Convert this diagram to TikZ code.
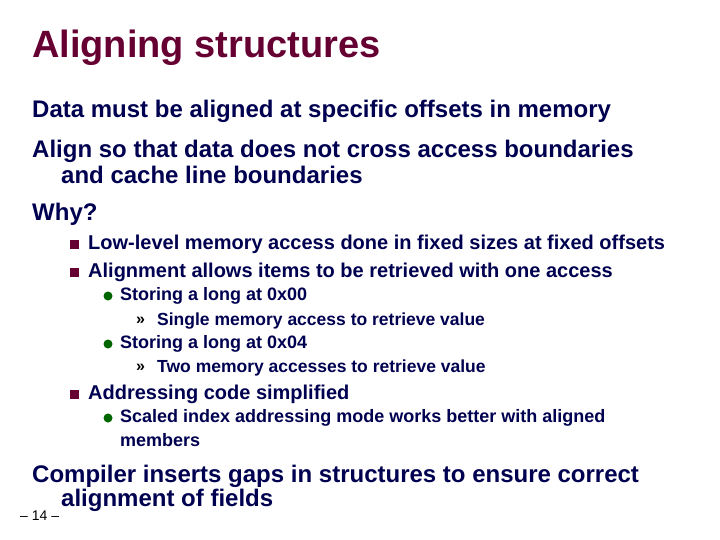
\documentclass[tikz,border=0pt]{standalone}
\usepackage{fontspec}
\setmainfont{Liberation Sans}
\usetikzlibrary{positioning}
\definecolor{titlered}{RGB}{102,0,51}
\definecolor{textblue}{RGB}{0,0,80}
\definecolor{bulletgreen}{RGB}{0,102,0}
\tikzset{
  txt/.style={anchor=west, inner sep=0pt, text=textblue, font=\bfseries\fontsize{#1}{#1}\selectfont},
  sqbullet/.style={fill=titlered, minimum size=9pt, inner sep=0pt},
  dotbullet/.style={circle, fill=bulletgreen, minimum size=9pt, inner sep=0pt}
}
\begin{document}
\begin{tikzpicture}[x=1pt, y=-1pt]
\useasboundingbox (0,0) rectangle (720,540);

% Title
\node[anchor=west, inner sep=0pt, text=titlered, font=\bfseries\fontsize{38}{38}\selectfont] (title) at (32,48) {Aligning structures};

% Top level
\node[txt=24] (data) at (32,111) {Data must be aligned at specific offsets in memory};
\node[txt=24] (align) at (32,151) {Align so that data does not cross access boundaries};
\node[txt=24] (align2) at (61,175) {and cache line boundaries};
\node[txt=24] (why) at (32,214) {Why?};

% Second level
\foreach \y/\n/\text in {
244/lowlev/Low-level memory access done in fixed sizes at fixed offsets,
272/allow/Alignment allows items to be retrieved with one access,
394/addr/Addressing code simplified
} {
  \node[sqbullet] (\n b) at (74,\y) {};
  \node[txt=20] (\n) at (88,\y) {\text};
}

% Third level
\foreach \y/\n/\text in {
296/st0/Storing a long at 0x00,
344/st4/Storing a long at 0x04,
418/scaled/Scaled index addressing mode works better with aligned
} {
  \node[dotbullet] (\n b) at (108,\y) {};
  \node[txt=18] (\n) at (120,\y) {\text};
}
\node[txt=18] (scaled2) at (120,440) {members};

% Fourth level
\foreach \y/\n/\text in {
321/single/Single memory access to retrieve value,
368/two/Two memory accesses to retrieve value
} {
  \node[anchor=west, inner sep=0pt, font=\bfseries\fontsize{16}{16}\selectfont] (\n b) at (136,\y) {»};
  \node[txt=17.5] (\n) at (157,\y) {\text};
}

% Bottom
\node[txt=24] (comp) at (32,476) {Compiler inserts gaps in structures to ensure correct};
\node[txt=24] (comp2) at (61,500) {alignment of fields};
\node[anchor=west, inner sep=0pt, font=\fontsize{14}{14}\selectfont] (page) at (20,516) {– 14 –};
\end{tikzpicture}
\end{document}
